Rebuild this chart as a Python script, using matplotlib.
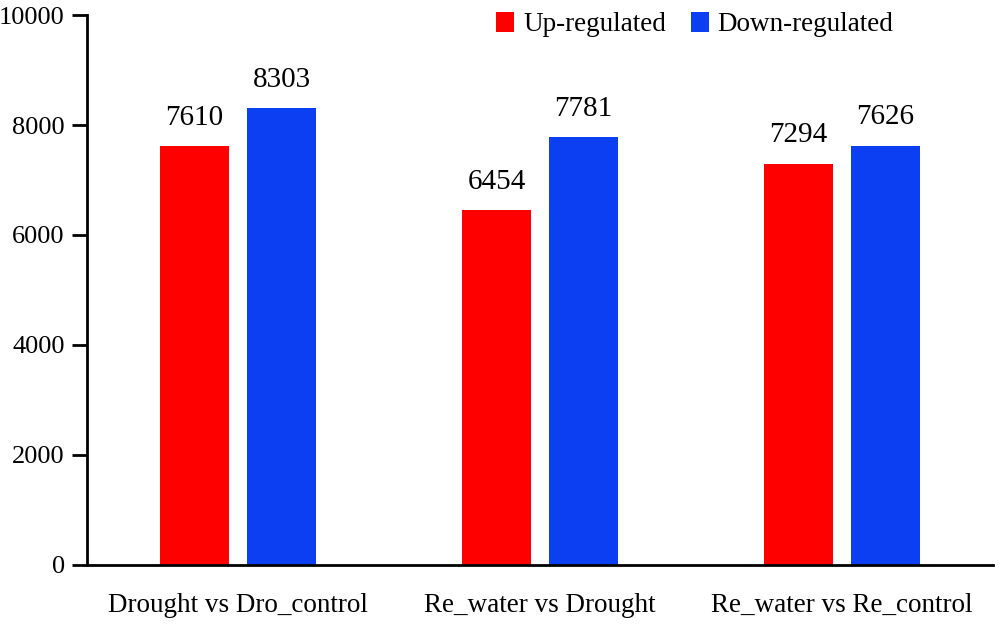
import matplotlib
matplotlib.use('Agg')
import matplotlib.pyplot as plt
import numpy as np

# Dados
categorias = ['Drought vs Dro_control', 'Re_water vs Drought', 'Re_water vs Re_control']
up = [7610, 6454, 7294]
down = [8303, 7781, 7626]

plt.rcParams['font.family'] = ['Liberation Serif', 'DejaVu Serif']

fig = plt.figure(figsize=(10, 6.27), dpi=100)
ax = fig.add_axes([0.087, 0.099, 0.906, 0.877])

x = np.arange(len(categorias))
w = 0.228
b1 = ax.bar(x - 0.144, up, w, color='#ff0000', label='Up-regulated')
b2 = ax.bar(x + 0.144, down, w, color='#0d3ff2', label='Down-regulated')

for barras in (b1, b2):
    for b in barras:
        ax.text(b.get_x() + b.get_width() / 2, b.get_height() + 280, str(int(b.get_height())),
                ha='center', va='bottom', fontsize=21)

ax.set_xlim(-0.5, 2.5)
ax.set_ylim(0, 10000)
ax.set_yticks([0, 2000, 4000, 6000, 8000, 10000])
ax.set_xticks(x)
ax.set_xticklabels(categorias)
ax.tick_params(axis='x', length=0, pad=20, labelsize=19.5)
ax.tick_params(axis='y', length=11, width=2, labelsize=19, pad=5)
ax.spines['top'].set_visible(False)
ax.spines['right'].set_visible(False)
ax.spines['left'].set_linewidth(2)
ax.spines['bottom'].set_linewidth(2)

ax.legend(loc='upper right', bbox_to_anchor=(0.917, 1.05), ncol=2, frameon=False,
          fontsize=19.5, handlelength=0.66, handleheight=0.74, handletextpad=0.33, columnspacing=0.92)

fig.savefig('out.png', dpi=100)
